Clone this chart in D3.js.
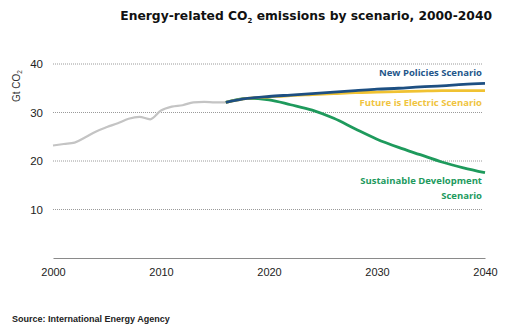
<!DOCTYPE html>
<html>
<head>
<meta charset="utf-8">
<script src="https://cdn.jsdelivr.net/npm/d3@7"></script>
<style>
  body { margin: 0; background: #fff; }
  text { font-family: "Liberation Sans", Arial, sans-serif; }
</style>
</head>
<body>
<div id="chart"></div>
<script>
// Historical emissions (Gt CO2)
const histYears = [2000, 2001, 2002, 2003, 2004, 2005, 2006, 2007, 2008, 2009, 2010, 2011, 2012, 2013, 2014, 2015, 2016];
const histValues = [23.2, 23.5, 23.8, 24.9, 26.1, 27.0, 27.8, 28.7, 29.1, 28.6, 30.4, 31.2, 31.5, 32.1, 32.2, 32.1, 32.1];

// Scenario projections
const scenYears = [2016, 2018, 2020, 2022, 2024, 2026, 2028, 2030, 2032, 2034, 2036, 2038, 2040];
const newPolicies = [32.1, 32.9, 33.3, 33.6, 33.9, 34.2, 34.5, 34.8, 35.0, 35.3, 35.5, 35.8, 36.0];
const futureElectric = [32.1, 32.9, 33.2, 33.5, 33.7, 33.9, 34.1, 34.2, 34.3, 34.4, 34.5, 34.5, 34.5];
const sustainable = [32.1, 32.9, 32.6, 31.6, 30.5, 28.8, 26.6, 24.5, 22.8, 21.3, 19.8, 18.6, 17.6];

const yTicks = [10, 20, 30, 40];
const xTicks = [2000, 2010, 2020, 2030, 2040];

const W = 510, H = 328;

const svg = d3.select("#chart")
    .append("svg")
    .attr("width", W)
    .attr("height", H);

const x = d3.scaleLinear().domain([2000, 2040]).range([53, 485]);
const y = d3.scaleLinear().domain([0, 40]).range([258, 64]);

// Title
const title = svg.append("text")
    .attr("x", 492)
    .attr("y", 20)
    .attr("text-anchor", "end")
    .style("font-family", "'DejaVu Sans', sans-serif")
    .style("font-weight", "bold")
    .style("font-size", "12.3px")
    .style("fill", "#111");
title.append("tspan").text("Energy-related CO");
title.append("tspan").attr("dy", 3).style("font-size", "7px").text("2");
title.append("tspan").attr("dy", -3).text(" emissions by scenario, 2000-2040");

// Gridlines
svg.append("g")
    .selectAll("line")
    .data(yTicks)
    .join("line")
    .attr("x1", x(2000))
    .attr("x2", x(2040) - 2)
    .attr("y1", d => y(d))
    .attr("y2", d => y(d))
    .attr("stroke", "#9a9a9a")
    .attr("stroke-width", 1)
    .attr("stroke-dasharray", "1,1");

// Y tick labels
svg.append("g")
    .selectAll("text")
    .data(yTicks)
    .join("text")
    .attr("x", 43)
    .attr("y", d => y(d) + 4)
    .attr("text-anchor", "end")
    .style("font-size", "11.5px")
    .style("fill", "#222")
    .text(d => d);

// Y axis label
const yl = svg.append("text")
    .attr("transform", "translate(20,102) rotate(-90)")
    .style("font-size", "10px")
    .style("fill", "#333");
yl.append("tspan").text("Gt CO");
yl.append("tspan").attr("dy", 2).style("font-size", "6.5px").text("2");

// X axis
const xAxis = svg.append("g")
    .attr("transform", `translate(0,${y(0)})`)
    .call(d3.axisBottom(x).tickValues(xTicks).tickFormat(d3.format("d")).tickSize(0).tickPadding(10));
xAxis.select(".domain").attr("stroke", "#8a8a8a").attr("stroke-width", 1.2);
xAxis.selectAll("text")
    .style("font-family", "'Liberation Sans', Arial, sans-serif")
    .style("font-size", "11px")
    .style("fill", "#222");

const line = d3.line()
    .x(d => x(d[0]))
    .y(d => y(d[1]))
    .curve(d3.curveMonotoneX);

// Historical
svg.append("path")
    .datum(histYears.map((d, i) => [d, histValues[i]]))
    .attr("d", line)
    .attr("fill", "none")
    .attr("stroke", "#c4c4c4")
    .attr("stroke-width", 2.2);

const scenarios = [
    { values: sustainable, color: "#1e9a5c" },
    { values: futureElectric, color: "#f0c232" },
    { values: newPolicies, color: "#1d4f82" }
];

svg.append("g")
    .selectAll("path")
    .data(scenarios)
    .join("path")
    .attr("d", s => line(scenYears.map((d, i) => [d, s.values[i]])))
    .attr("fill", "none")
    .attr("stroke", s => s.color)
    .attr("stroke-width", 2.8);

// Scenario labels
const labels = [
    { text: "New Policies Scenario", y: 76, color: "#24568a" },
    { text: "Future is Electric Scenario", y: 106, color: "#f0c440" },
    { text: "Sustainable Development", y: 184, color: "#229a5e" },
    { text: "Scenario", y: 199, color: "#229a5e" }
];

svg.append("g")
    .selectAll("text")
    .data(labels)
    .join("text")
    .attr("x", 482)
    .attr("y", d => d.y)
    .attr("text-anchor", "end")
    .style("font-family", "'Open Sans', sans-serif")
    .style("font-weight", "bold")
    .style("font-size", "9.5px")
    .style("fill", d => d.color)
    .text(d => d.text);

// Source
svg.append("text")
    .attr("x", 12)
    .attr("y", 322)
    .style("font-weight", "bold")
    .style("font-size", "9px")
    .style("fill", "#222")
    .text("Source: International Energy Agency");
</script>
</body>
</html>
